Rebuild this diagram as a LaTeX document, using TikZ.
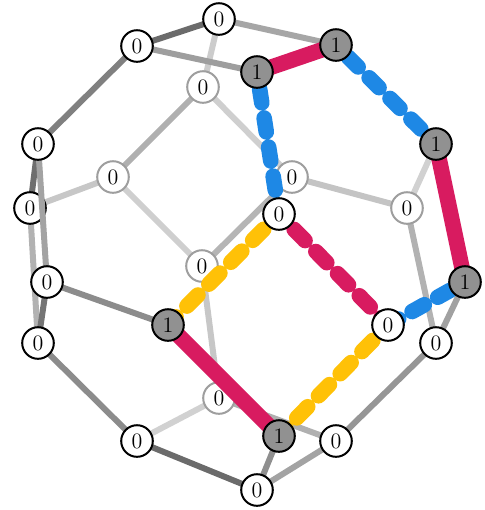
\documentclass[tikz,border=0pt]{standalone}
\pgfdeclarelayer{e0}\pgfdeclarelayer{n0}\pgfdeclarelayer{e1}
\pgfsetlayers{e0,n0,e1,main}
\definecolor{cpink}{HTML}{D81B60}
\definecolor{cblue}{HTML}{1E88E5}
\definecolor{cyell}{HTML}{FFC107}
\tikzset{
 x=0.5pt,y=-0.5pt,
 vtx/.style={circle,draw=black,line width=1pt,fill=white,text=black,minimum size=15.8pt,inner sep=0pt,font=\fontsize{11}{13}\selectfont},
 backvtx/.style={vtx,draw=black!38},
 onevtx/.style={vtx,fill=black!43},
 wire/.style={line width=3pt,draw=black!#1},
 solidc/.style={line width=7.8pt,draw=#1},
 dashc/.style n args={4}{line width=7.8pt,draw=#1,line cap=round,dash pattern=on #2pt off #3pt,dash phase=#4pt},
}
\begin{document}
\begin{tikzpicture}
\useasboundingbox (0,0) rectangle (484,510);
\begin{pgfonlayer}{n0}
\node[backvtx] (b1) at (203,87) {0};
\node[backvtx] (b2) at (113,177) {0};
\node[backvtx] (b3) at (292,177) {0};
\node[backvtx] (b4) at (407,208) {0};
\node[backvtx] (b5) at (202,266) {0};
\node[backvtx] (b6) at (219,398) {0};
\node[vtx] (l2) at (30,208) {0};
\end{pgfonlayer}
\node[vtx] (top) at (219,19) {0};
\node[vtx] (a) at (137,46) {0};
\node[onevtx] (p) at (257,72) {1};
\node[onevtx] (q) at (336,45) {1};
\node[vtx] (l1) at (38,144) {0};
\node[onevtx] (r) at (436,144) {1};
\node[vtx] (c) at (279,214) {0};
\node[onevtx] (s) at (465,282) {1};
\node[vtx] (l3) at (47,282) {0};
\node[onevtx] (t) at (168,325) {1};
\node[vtx] (d) at (388,325) {0};
\node[vtx] (l4) at (38,343) {0};
\node[vtx] (u) at (436,343) {0};
\node[vtx] (m) at (137,441) {0};
\node[onevtx] (v) at (279,436) {1};
\node[vtx] (w) at (336,441) {0};
\node[vtx] (bot) at (257,490) {0};
\begin{pgfonlayer}{e0}
\draw[wire=20] (top.center) -- (b1.center);
\draw[wire=31] (b1.center) -- (b2.center);
\draw[wire=19] (b1.center) -- (b3.center);
\draw[wire=22] (b2.center) -- (l2.center);
\draw[wire=19] (b2.center) -- (b5.center);
\draw[wire=57] (l1.center) -- (l2.center);
\draw[wire=30] (l2.center) -- (l4.center);
\draw[wire=23] (b3.center) -- (b4.center);
\draw[wire=29] (b3.center) -- (b5.center);
\draw[wire=18] (r.center) -- (b4.center);
\draw[wire=30] (b4.center) -- (u.center);
\draw[wire=22] (b5.center) -- (b6.center);
\draw[wire=18] (m.center) -- (b6.center);
\draw[wire=31] (b6.center) -- (w.center);
\end{pgfonlayer}
\begin{pgfonlayer}{e1}
\draw[wire=58] (top.center) -- (a.center);
\draw[wire=35] (top.center) -- (q.center);
\draw[wire=38] (a.center) -- (p.center);
\draw[wire=50] (a.center) -- (l1.center);
\draw[wire=36] (l1.center) -- (l3.center);
\draw[wire=54] (l3.center) -- (l4.center);
\draw[wire=45] (l3.center) -- (t.center);
\draw[wire=37] (s.center) -- (u.center);
\draw[wire=45] (l4.center) -- (m.center);
\draw[wire=58] (m.center) -- (bot.center);
\draw[wire=44] (v.center) -- (bot.center);
\draw[wire=36] (w.center) -- (bot.center);
\draw[wire=41] (w.center) -- (u.center);
\draw[solidc=cpink] (p.center) -- (q.center);
\draw[solidc=cpink] (r.center) -- (s.center);
\draw[solidc=cpink] (t.center) -- (v.center);
\draw[dashc={cblue}{7}{7.7}{6.1}] (q.center) -- (r.center);
\draw[dashc={cblue}{7}{7.7}{6.1}] (p.center) -- (c.center);
\draw[dashc={cblue}{7}{7.7}{6.1}] (s.center) -- (d.center);
\draw[dashc={cyell}{7.8}{7.7}{4.7}] (d.center) -- (v.center);
\draw[dashc={cyell}{7.8}{7.7}{4.7}] (c.center) -- (t.center);
\draw[dashc={cpink}{7.8}{7.7}{4.7}] (c.center) -- (d.center);
\end{pgfonlayer}
\end{tikzpicture}
\end{document}
